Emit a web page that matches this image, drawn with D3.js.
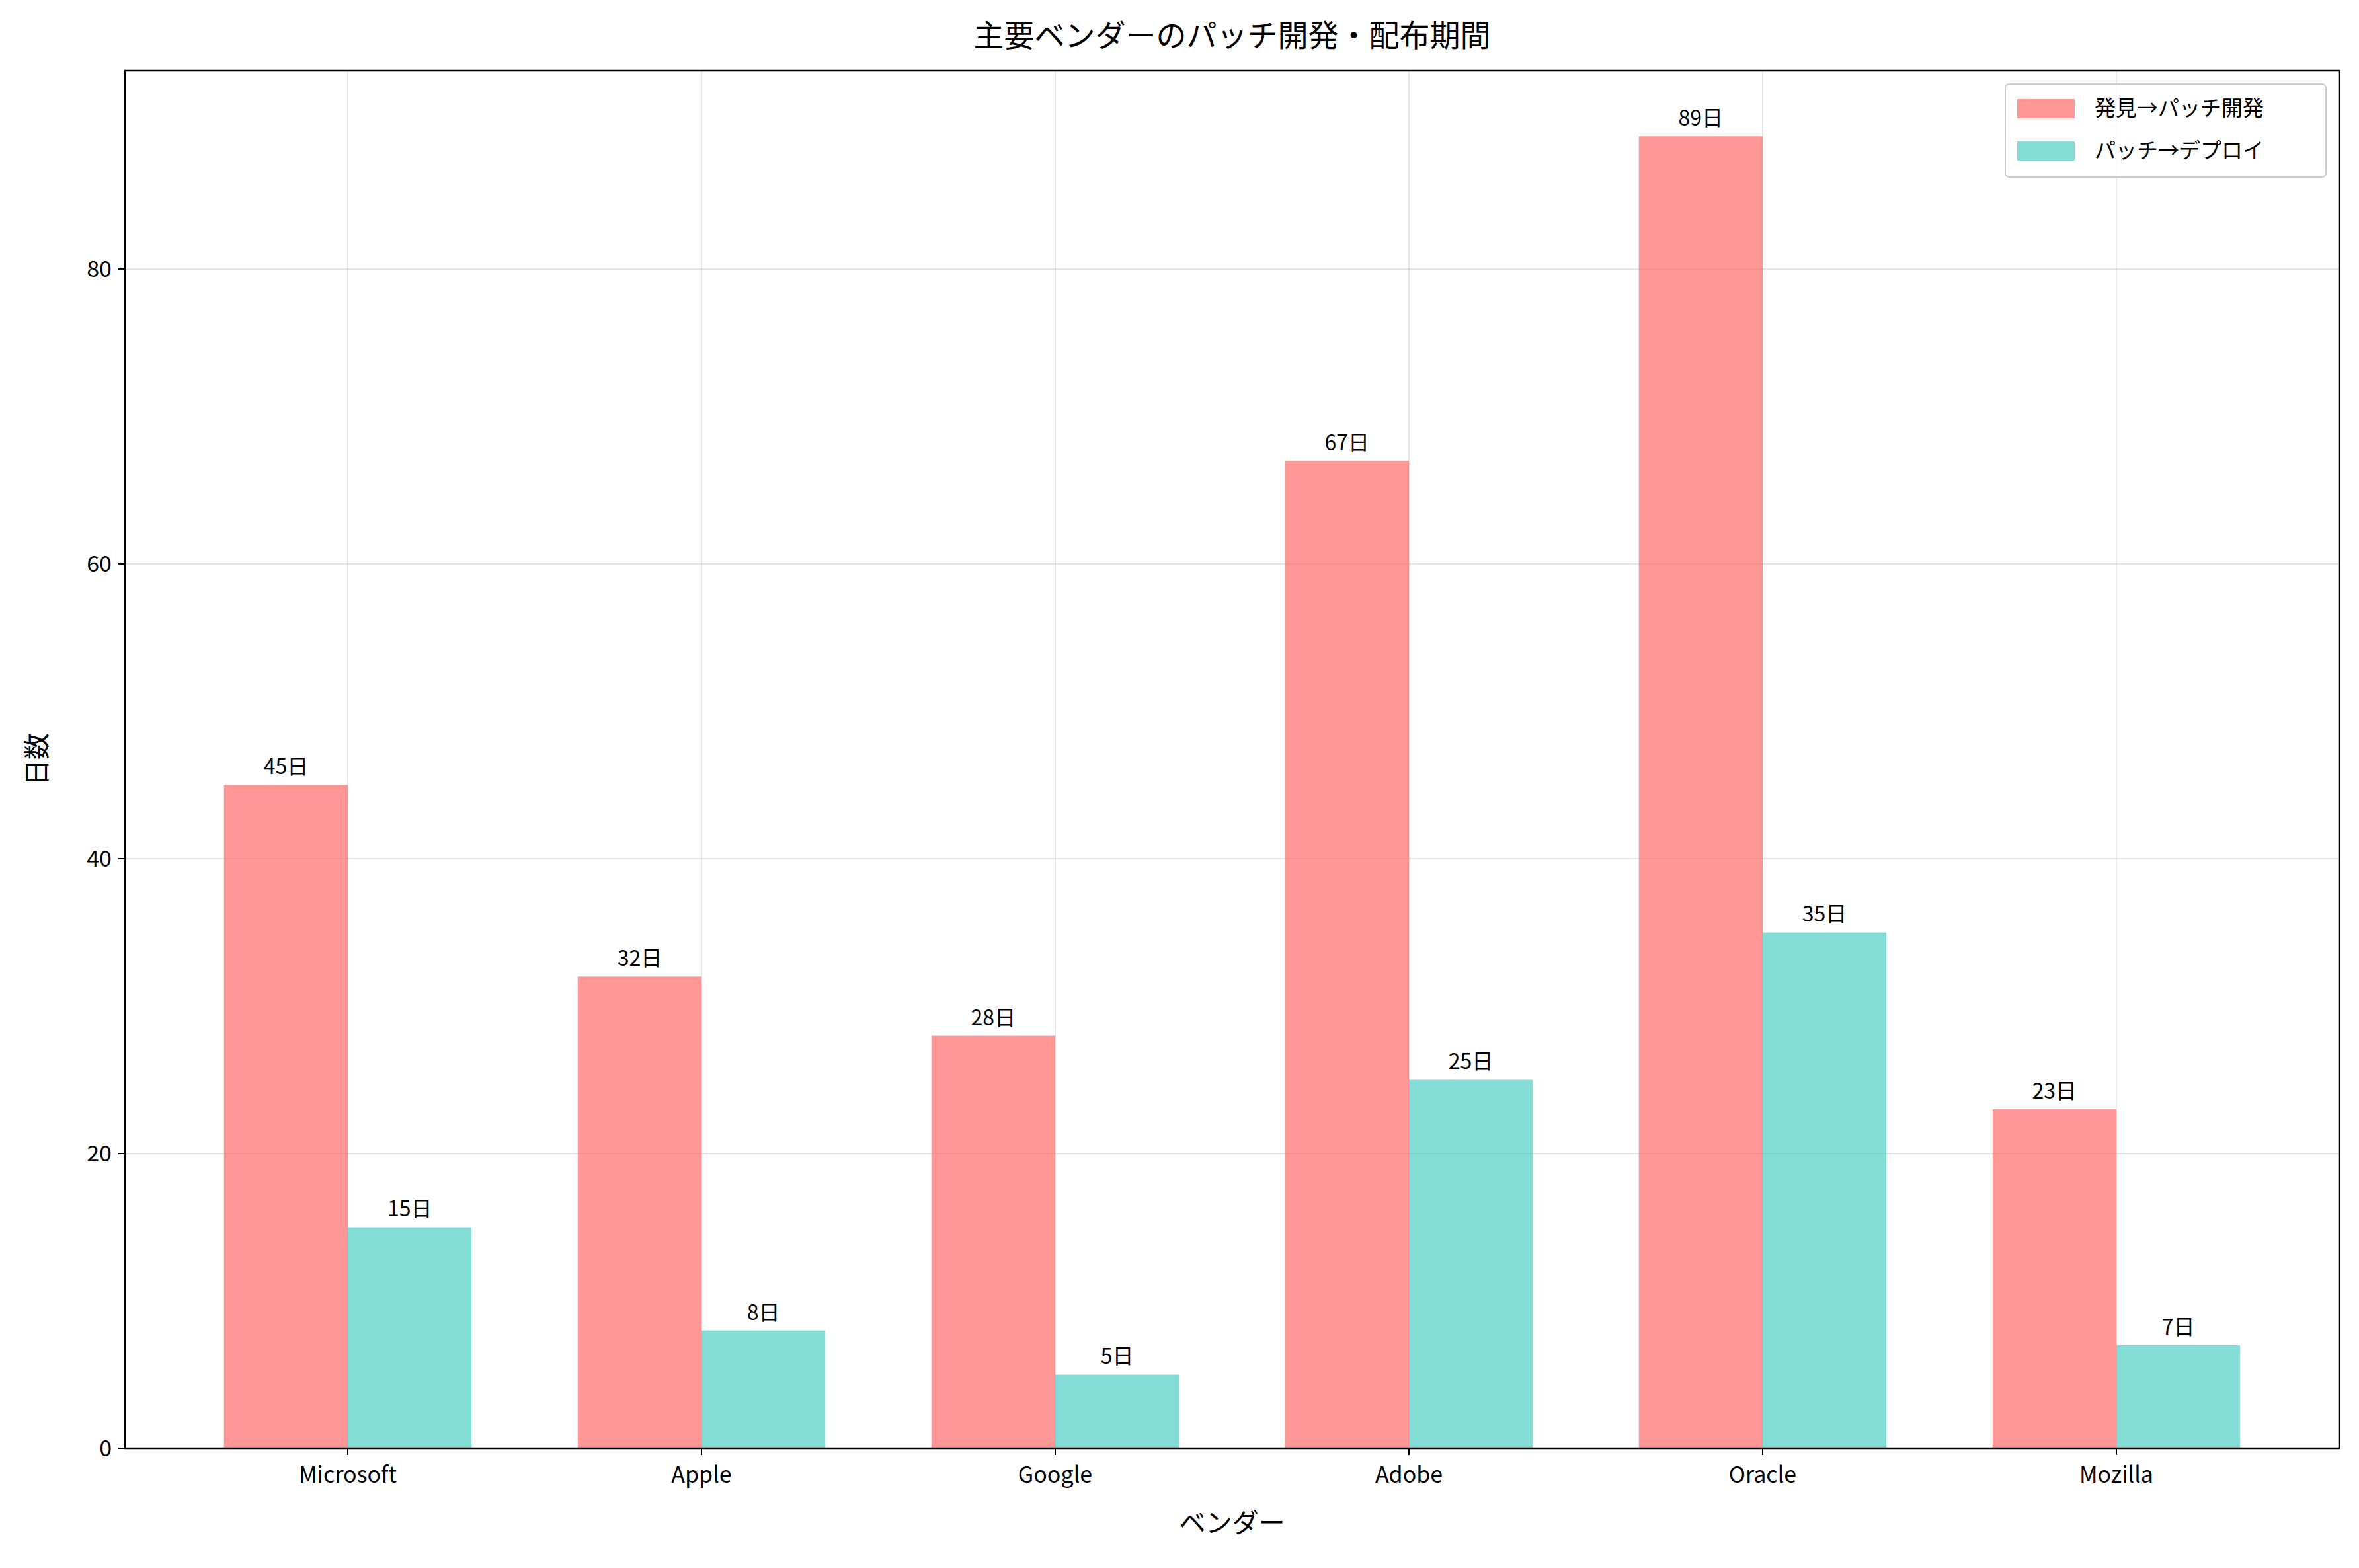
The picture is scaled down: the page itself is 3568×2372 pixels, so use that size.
<!DOCTYPE html>
<html><head><meta charset="utf-8">
<script src="https://cdn.jsdelivr.net/npm/d3@7"></script>
<style>body{margin:0;background:#fff}svg{font-family:"Noto Sans CJK JP","Noto Sans",sans-serif}</style>
</head><body><svg id="c" width="3568" height="2372"></svg>
<script>
const vendors=["Microsoft","Apple","Google","Adobe","Oracle","Mozilla"];
const devDays=[45,32,28,67,89,23];
const deployDays=[15,8,5,25,35,7];
const seriesNames=["発見→パッチ開発","パッチ→デプロイ"];
const yTicks=[0,20,40,60,80];
const colors=["#FF6B6B","#4ECDC4"];

const svg=d3.select("#c");
const L=189,R=3538,T=107,B=2191;
const x=d3.scaleLinear().domain([-0.63,5.63]).range([L,R]);
const y=d3.scaleLinear().domain([0,93.45]).range([B,T]);
const w=0.35;
const g=svg.append("g");
// grid
vendors.forEach((v,i)=>g.append("line").attr("x1",x(i)).attr("x2",x(i)).attr("y1",T).attr("y2",B).attr("stroke","#000").attr("stroke-opacity",0.1).attr("stroke-width",2));
yTicks.forEach(t=>g.append("line").attr("x1",L).attr("x2",R).attr("y1",y(t)).attr("y2",y(t)).attr("stroke","#000").attr("stroke-opacity",0.1).attr("stroke-width",2));
[devDays,deployDays].forEach((arr,s)=>{
  arr.forEach((d,i)=>{
    const x0=i+(s===0?-w:0);
    g.append("rect").attr("x",x(x0)).attr("width",x(x0+w)-x(x0)).attr("y",y(d)).attr("height",y(0)-y(d)).attr("fill",colors[s]).attr("fill-opacity",0.7);
    g.append("text").attr("x",x(x0+w/2)).attr("y",y(d)-16).attr("text-anchor","middle").attr("font-size",32).text(d+"日");
  });
});
// frame
svg.append("rect").attr("x",L).attr("y",T).attr("width",R-L).attr("height",B-T).attr("fill","none").attr("stroke","#000").attr("stroke-width",2.5);
// x ticks
vendors.forEach((v,i)=>{
  svg.append("line").attr("x1",x(i)).attr("x2",x(i)).attr("y1",B).attr("y2",B+10).attr("stroke","#000").attr("stroke-width",2);
  svg.append("text").attr("x",x(i)).attr("y",B+52).attr("text-anchor","middle").attr("font-size",34).text(v);
});
yTicks.forEach(t=>{
  svg.append("line").attr("x1",L-10).attr("x2",L).attr("y1",y(t)).attr("y2",y(t)).attr("stroke","#000").attr("stroke-width",2);
  svg.append("text").attr("x",L-20).attr("y",y(t)).attr("dy","0.35em").attr("text-anchor","end").attr("font-size",34).text(t);
});
svg.append("text").attr("x",(L+R)/2).attr("y",70).attr("text-anchor","middle").attr("font-size",46).text("主要ベンダーのパッチ開発・配布期間");
svg.append("text").attr("x",(L+R)/2).attr("y",2318).attr("text-anchor","middle").attr("font-size",40).text("ベンダー");
svg.append("text").attr("transform","translate(70,"+((T+B)/2)+") rotate(-90)").attr("text-anchor","middle").attr("font-size",40).text("日数");
// legend
const lg=svg.append("g");
lg.append("rect").attr("x",3033).attr("y",127).attr("width",485).attr("height",141).attr("rx",6).attr("fill","#fff").attr("fill-opacity",0.8).attr("stroke","#ccc").attr("stroke-width",2);
seriesNames.forEach((n,i)=>{
  const yy=164+i*64;
  lg.append("rect").attr("x",3051).attr("y",yy-14).attr("width",87).attr("height",29).attr("fill",colors[i]).attr("fill-opacity",0.7);
  lg.append("text").attr("x",3168).attr("y",yy).attr("dy","0.35em").attr("font-size",32).text(n);
});
</script></body></html>
